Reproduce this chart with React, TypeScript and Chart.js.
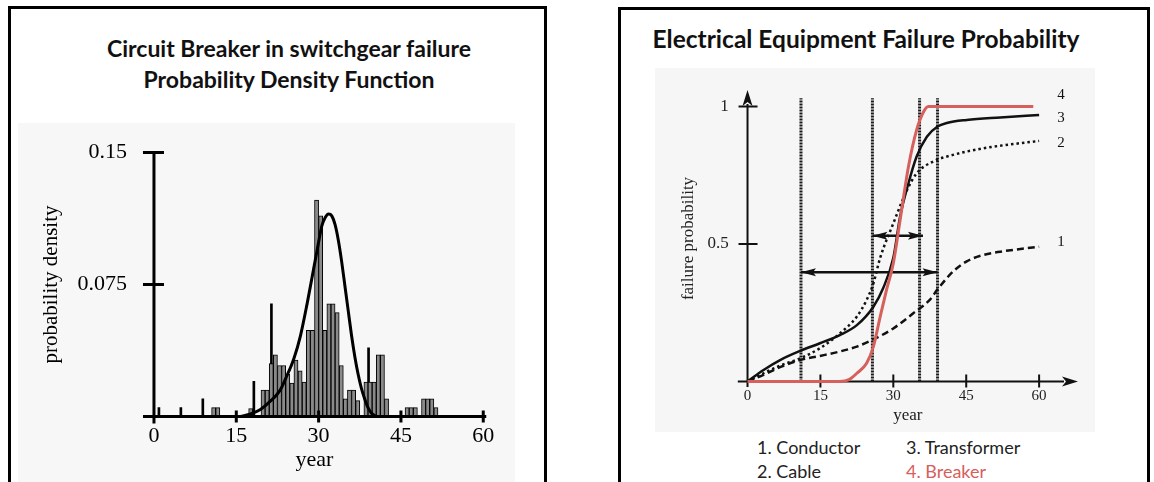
import React, { useEffect, useRef } from 'react';
import { Chart, registerables } from 'chart.js';

Chart.register(...registerables);

// ---------- Left chart: histogram + density curve ----------
const pdfTitleLines = ['Circuit Breaker in switchgear failure', 'Probability Density Function'];
const pdfXTicks = [0, 15, 30, 45, 60];
const pdfYTicks = [0.075, 0.15];

// histogram bins (0.75-year wide), bin centres in years
const histYear = [
  10.875, 11.625, 17.625, 19.875, 20.625, 21.375, 22.125, 22.875, 23.625, 24.375,
  25.125, 25.875, 26.625, 27.375, 28.125, 28.875, 29.625, 30.375, 31.125, 31.875,
  32.625, 33.375, 34.125, 34.875, 35.625, 36.375, 37.125, 38.625, 39.375, 40.125,
  40.875, 41.625, 42.375, 46.125, 46.875, 47.625, 49.125, 49.875, 50.625, 51.375,
];
const histDensity = [
  0.005, 0.005, 0.0045, 0.015, 0.015, 0.03, 0.035, 0.029, 0.029, 0.024,
  0.019, 0.032, 0.026, 0.0195, 0.049, 0.049, 0.123, 0.114, 0.049, 0.064,
  0.064, 0.059, 0.029, 0.01, 0.015, 0.015, 0.009, 0.0195, 0.0195, 0.0195,
  0.035, 0.035, 0.01, 0.005, 0.005, 0.005, 0.01, 0.01, 0.01, 0.005,
];
// thin single-line bars
const spikeYear = [0.9, 4.9, 8.9, 18.2, 21.4, 39.1];
const spikeDensity = [0.005, 0.005, 0.01, 0.02, 0.064, 0.039];

// fitted density curve
const pdfYear = [
  15.8, 17.6, 19.4, 21.2, 23.0, 24.2, 25.5, 26.7, 27.9, 28.8, 29.7, 30.6, 31.2, 31.8,
  32.4, 33.0, 33.6, 34.2, 34.8, 35.4, 36.0, 36.6, 37.2, 37.8, 38.4, 39.0, 39.6, 40.5,
];
const pdfDensity = [
  0, 0.0015, 0.004, 0.0087, 0.015, 0.023, 0.033, 0.046, 0.064, 0.079, 0.094, 0.1085, 0.113, 0.115,
  0.114, 0.109, 0.1, 0.088, 0.074, 0.06, 0.046, 0.034, 0.024, 0.016, 0.01, 0.005, 0.002, 0,
];

// ---------- Right chart: failure probability curves ----------
const cdfTitle = 'Electrical Equipment Failure Probability';
const cdfXTicks = [0, 15, 30, 45, 60];
const cdfYTicks = [0.5, 1];

const conductorYear = [0, 3.3, 6.7, 10.8, 14.9, 19, 22.5, 25.9, 30, 34.1, 37.5, 39.1, 42.3, 45.1, 48.5, 52, 60];
const conductorProb = [0, 0.024, 0.052, 0.078, 0.093, 0.109, 0.127, 0.153, 0.193, 0.248, 0.297, 0.335, 0.4, 0.437, 0.46, 0.472, 0.49];

const cableYear = [0, 3.3, 6.7, 10.8, 14.9, 19, 22.5, 24.5, 25.9, 27.3, 30, 32.8, 34.8, 38.2, 42.3, 48.5, 60];
const cableProb = [0, 0.03, 0.058, 0.084, 0.121, 0.175, 0.236, 0.296, 0.357, 0.45, 0.575, 0.696, 0.757, 0.8, 0.824, 0.848, 0.875];

const transformerYear = [0, 3.3, 6.7, 10.8, 14.9, 19, 22.5, 25.9, 27.9, 30, 31.4, 33.1, 34.8, 36.9, 39.1, 41, 45.1, 52, 60];
const transformerProb = [0, 0.042, 0.078, 0.111, 0.139, 0.169, 0.205, 0.272, 0.339, 0.45, 0.6, 0.72, 0.818, 0.89, 0.927, 0.94, 0.951, 0.96, 0.969];

const breakerYear = [0, 10, 19, 21, 22.5, 24.5, 25.9, 27.3, 28.6, 30, 31.4, 33.1, 34.8, 36.2, 37.2, 45, 58.8];
const breakerProb = [0, 0, 0, 0.008, 0.03, 0.066, 0.127, 0.236, 0.333, 0.43, 0.587, 0.78, 0.915, 0.98, 1, 1, 1];

const markerYears = [11.0, 25.7, 35.4, 39.1];
const markerTop = 1.03;
const arrowFrom = [25.7, 11.0];
const arrowTo = [36.1, 39.1];
const arrowLevel = [0.53, 0.397];

const curveLabels = ['4', '3', '2', '1'];
const curveLabelYear = 64.5;
const curveLabelProb = [1.042, 0.958, 0.867, 0.507];

const legendLabels = ['1. Conductor', '2. Cable', '3. Transformer', '4. Breaker'];

const SERIF = "'Liberation Serif', 'DejaVu Serif', serif";
const SANS = "Lato, 'Open Sans', sans-serif";
const RED = 'rgb(214, 96, 92)';

const pts = (xs: number[], ys: number[]) => xs.map((x, i) => ({ x, y: ys[i] }));
const setTicks = (vals: number[]) => (s: any) => {
  s.ticks = vals.map((v) => ({ value: v }));
};

const leftAxesPlugin = {
  id: 'leftAxes',
  afterDatasetsDraw(chart: any) {
    const { ctx, scales } = chart;
    const x = scales.x;
    const y = scales.y;
    const x0 = x.getPixelForValue(0);
    const y0 = y.getPixelForValue(0);
    ctx.save();
    ctx.strokeStyle = '#000';
    ctx.lineWidth = 3;
    ctx.beginPath();
    ctx.moveTo(x0, y.getPixelForValue(pdfYTicks[pdfYTicks.length - 1]) - 1.5);
    ctx.lineTo(x0, y0 + 7);
    ctx.moveTo(x.left, y0);
    ctx.lineTo(x.getPixelForValue(pdfXTicks[pdfXTicks.length - 1]) + 3, y0);
    pdfYTicks.forEach((v) => {
      const py = y.getPixelForValue(v);
      ctx.moveTo(x0 - 11, py);
      ctx.lineTo(x0 + 10, py);
    });
    pdfXTicks.forEach((v) => {
      if (v === 0) return;
      const px = x.getPixelForValue(v);
      ctx.moveTo(px, y0 - 6);
      ctx.lineTo(px, y0 + 6);
    });
    ctx.stroke();
    ctx.restore();
  },
};

const rightAxesPlugin = {
  id: 'rightAxes',
  beforeDatasetsDraw(chart: any) {
    const { ctx, scales } = chart;
    const x = scales.x;
    const y = scales.y;
    const x0 = x.getPixelForValue(0);
    const y0 = y.getPixelForValue(0);
    const head = 16;
    ctx.save();
    ctx.strokeStyle = '#111';
    ctx.fillStyle = '#111';
    ctx.lineWidth = 2;
    ctx.beginPath();
    ctx.moveTo(x.left, y0);
    ctx.lineTo(x.right - head + 2, y0);
    ctx.moveTo(x0, y.bottom);
    ctx.lineTo(x0, y.top + head - 2);
    cdfYTicks.forEach((v) => {
      const py = y.getPixelForValue(v);
      ctx.moveTo(x0 - 9, py);
      ctx.lineTo(x0 + 10, py);
    });
    cdfXTicks.forEach((v) => {
      if (v === 0) return;
      const px = x.getPixelForValue(v);
      ctx.moveTo(px, y0 - 7);
      ctx.lineTo(px, y0 + 6);
    });
    ctx.stroke();
    // arrowheads of the axes
    ctx.beginPath();
    ctx.moveTo(x.right, y0);
    ctx.lineTo(x.right - head, y0 - 5);
    ctx.lineTo(x.right - head + 4, y0);
    ctx.lineTo(x.right - head, y0 + 5);
    ctx.closePath();
    ctx.moveTo(x0, y.top);
    ctx.lineTo(x0 - 5, y.top + head);
    ctx.lineTo(x0, y.top + head - 4);
    ctx.lineTo(x0 + 5, y.top + head);
    ctx.closePath();
    ctx.fill();
    ctx.restore();
  },
  afterDatasetsDraw(chart: any) {
    const { ctx, scales } = chart;
    const x = scales.x;
    const y = scales.y;
    ctx.save();
    ctx.fillStyle = '#111';
    chart.data.datasets.forEach((ds: any, i: number) => {
      if (!String(ds.label).startsWith('arrow')) return;
      const p = chart.getDatasetMeta(i).data;
      const a = p[0];
      const b = p[p.length - 1];
      const len = 15;
      const hw = 4;
      ctx.beginPath();
      ctx.moveTo(a.x, a.y);
      ctx.lineTo(a.x + len, a.y - hw);
      ctx.lineTo(a.x + len - 3, a.y);
      ctx.lineTo(a.x + len, a.y + hw);
      ctx.closePath();
      ctx.moveTo(b.x, b.y);
      ctx.lineTo(b.x - len, b.y - hw);
      ctx.lineTo(b.x - len + 3, b.y);
      ctx.lineTo(b.x - len, b.y + hw);
      ctx.closePath();
      ctx.fill();
    });
    ctx.font = `15px ${SERIF}`;
    ctx.textAlign = 'center';
    ctx.textBaseline = 'middle';
    curveLabels.forEach((t, i) => {
      ctx.fillText(t, x.getPixelForValue(curveLabelYear), y.getPixelForValue(curveLabelProb[i]));
    });
    ctx.restore();
  },
};

export default function App() {
  const leftRef = useRef<HTMLCanvasElement | null>(null);
  const rightRef = useRef<HTMLCanvasElement | null>(null);

  useEffect(() => {
    const left = new Chart(leftRef.current as HTMLCanvasElement, {
      type: 'bar',
      data: {
        datasets: [
          {
            type: 'line',
            label: 'density',
            data: pts(pdfYear, pdfDensity),
            borderColor: '#000',
            borderWidth: 3,
            pointRadius: 0,
            cubicInterpolationMode: 'monotone',
            fill: false,
            order: 0,
            xAxisID: 'x',
            yAxisID: 'y',
          },
          {
            type: 'bar',
            label: 'histogram',
            data: pts(histYear, histDensity),
            backgroundColor: '#8a8a8a',
            borderColor: '#000',
            borderWidth: 1,
            categoryPercentage: 1,
            barPercentage: 1,
            grouped: false,
            order: 1,
            xAxisID: 'x',
            yAxisID: 'y',
          },
          {
            type: 'bar',
            label: 'spikes',
            data: pts(spikeYear, spikeDensity),
            backgroundColor: '#000',
            borderWidth: 0,
            barThickness: 2,
            grouped: false,
            order: 2,
            xAxisID: 'x2',
            yAxisID: 'y',
          },
        ],
      } as any,
      options: {
        responsive: false,
        maintainAspectRatio: false,
        animation: false,
        events: [],
        layout: { padding: { left: 0, right: 29, top: 29.5, bottom: 0 } },
        plugins: { legend: { display: false }, tooltip: { enabled: false } },
        scales: {
          x: {
            type: 'linear',
            offset: false,
            min: -2,
            max: 60.5,
            grid: { display: false, drawTicks: false, offset: false },
            border: { display: false },
            afterBuildTicks: setTicks(pdfXTicks),
            afterFit: (s: any) => {
              s.height = 65.5;
            },
            ticks: {
              autoSkip: false,
              maxRotation: 0,
              padding: 7,
              color: '#000',
              font: { family: SERIF, size: 22 },
              callback: (v: any) => String(v),
            },
            title: {
              display: true,
              text: 'year',
              color: '#000',
              font: { family: SERIF, size: 22 },
              padding: { top: 0, bottom: 9 },
            },
          },
          x2: { type: 'linear', display: false, offset: false, min: -2, max: 60.5 },
          y: {
            type: 'linear',
            min: 0,
            max: 0.15,
            grid: { display: false, drawTicks: false },
            border: { display: false },
            afterBuildTicks: setTicks(pdfYTicks),
            afterFit: (s: any) => {
              s.width = 125;
            },
            ticks: {
              autoSkip: false,
              padding: 16,
              color: '#000',
              font: { family: SERIF, size: 22 },
              callback: (v: any) => String(v),
            },
            title: {
              display: true,
              text: 'probability density',
              color: '#000',
              font: { family: SERIF, size: 21 },
              padding: { top: 21, bottom: 0 },
            },
          },
        },
      } as any,
      plugins: [leftAxesPlugin],
    });

    const curveDs = (label: string, xs: number[], ys: number[], color: string, width: number, dash: number[]) => ({
      type: 'line',
      label,
      data: pts(xs, ys),
      borderColor: color,
      borderWidth: width,
      borderDash: dash,
      pointRadius: 0,
      cubicInterpolationMode: 'monotone',
      fill: false,
    });

    const right = new Chart(rightRef.current as HTMLCanvasElement, {
      type: 'line',
      data: {
        datasets: [
          curveDs('4. Breaker', breakerYear, breakerProb, RED, 3, []),
          curveDs('3. Transformer', transformerYear, transformerProb, '#111', 2.5, []),
          curveDs('2. Cable', cableYear, cableProb, '#111', 2.5, [2.5, 3]),
          curveDs('1. Conductor', conductorYear, conductorProb, '#111', 2.5, [7, 4]),
          ...arrowFrom.map((a, i) => ({
            type: 'line',
            label: 'arrow' + i,
            data: [
              { x: a, y: arrowLevel[i] },
              { x: arrowTo[i], y: arrowLevel[i] },
            ],
            borderColor: '#111',
            borderWidth: 2.5,
            pointRadius: 0,
            tension: 0,
            fill: false,
          })),
          ...markerYears.map((m, i) => ({
            type: 'line',
            label: 'marker' + i,
            data: [
              { x: m, y: 0 },
              { x: m, y: markerTop },
            ],
            borderColor: '#1a1a1a',
            borderWidth: 3,
            borderDash: [2, 1],
            pointRadius: 0,
            tension: 0,
            fill: false,
          })),
        ],
      } as any,
      options: {
        responsive: false,
        maintainAspectRatio: false,
        animation: false,
        events: [],
        layout: { padding: { left: 0, right: 17, top: 22, bottom: 0 } },
        plugins: { legend: { display: false }, tooltip: { enabled: false } },
        scales: {
          x: {
            type: 'linear',
            offset: false,
            min: -2,
            max: 68,
            grid: { display: false, drawTicks: false },
            border: { display: false },
            afterBuildTicks: setTicks(cdfXTicks),
            afterFit: (s: any) => {
              s.height = 45;
            },
            ticks: {
              autoSkip: false,
              maxRotation: 0,
              padding: 0,
              color: '#222',
              font: { family: SERIF, size: 15 },
              callback: (v: any) => String(v),
            },
            title: {
              display: true,
              text: 'year',
              color: '#222',
              font: { family: SERIF, size: 17 },
              padding: { top: 0, bottom: 6 },
            },
          },
          y: {
            type: 'linear',
            min: -0.02,
            max: 1.06,
            grid: { display: false, drawTicks: false },
            border: { display: false },
            afterBuildTicks: setTicks(cdfYTicks),
            afterFit: (s: any) => {
              s.width = 82.8;
            },
            ticks: {
              autoSkip: false,
              padding: 9,
              color: '#222',
              font: { family: SERIF, size: 17 },
              callback: (v: any) => String(v),
            },
            title: {
              display: true,
              text: 'failure probability',
              color: '#222',
              font: { family: SERIF, size: 17 },
              padding: { top: 23, bottom: 0 },
            },
          },
        },
      } as any,
      plugins: [rightAxesPlugin],
    });

    return () => {
      left.destroy();
      right.destroy();
    };
  }, []);

  const titleStyle: React.CSSProperties = {
    position: 'absolute',
    fontFamily: SANS,
    fontWeight: 700,
    color: '#111',
    textAlign: 'center',
    whiteSpace: 'nowrap',
  };
  const legendStyle: React.CSSProperties = {
    position: 'absolute',
    fontFamily: SANS,
    fontSize: 18,
    lineHeight: '24px',
    color: '#222',
    whiteSpace: 'nowrap',
  };

  return (
    <div
      style={{
        position: 'fixed',
        left: 0,
        top: 0,
        width: 1154,
        height: 482,
        background: '#fff',
        overflow: 'hidden',
      }}
    >
      <div
        style={{
          position: 'absolute',
          left: 8,
          top: 6,
          width: 539,
          height: 540,
          border: '3px solid #000',
          boxSizing: 'border-box',
        }}
      />
      <div
        style={{
          position: 'absolute',
          left: 618,
          top: 7,
          width: 532,
          height: 540,
          border: '3px solid #000',
          boxSizing: 'border-box',
        }}
      />
      <div style={{ ...titleStyle, left: 79, top: 33, width: 420, fontSize: 23, lineHeight: '31px' }}>
        {pdfTitleLines.map((t) => (
          <div key={t}>{t}</div>
        ))}
      </div>
      <div style={{ ...titleStyle, left: 646, top: 24, width: 440, fontSize: 24.5, lineHeight: '30px' }}>{cdfTitle}</div>
      <canvas
        ref={leftRef}
        width={497}
        height={359}
        style={{ position: 'absolute', left: 18, top: 123, width: 497, height: 359, background: '#f7f7f7' }}
      />
      <canvas
        ref={rightRef}
        width={440}
        height={364}
        style={{ position: 'absolute', left: 655, top: 68, width: 440, height: 364, background: '#f6f6f6' }}
      />
      <div style={{ ...legendStyle, left: 757, top: 435 }}>
        <div>{legendLabels[0]}</div>
        <div>{legendLabels[1]}</div>
      </div>
      <div style={{ ...legendStyle, left: 906, top: 435 }}>
        <div>{legendLabels[2]}</div>
        <div style={{ color: RED }}>{legendLabels[3]}</div>
      </div>
    </div>
  );
}
